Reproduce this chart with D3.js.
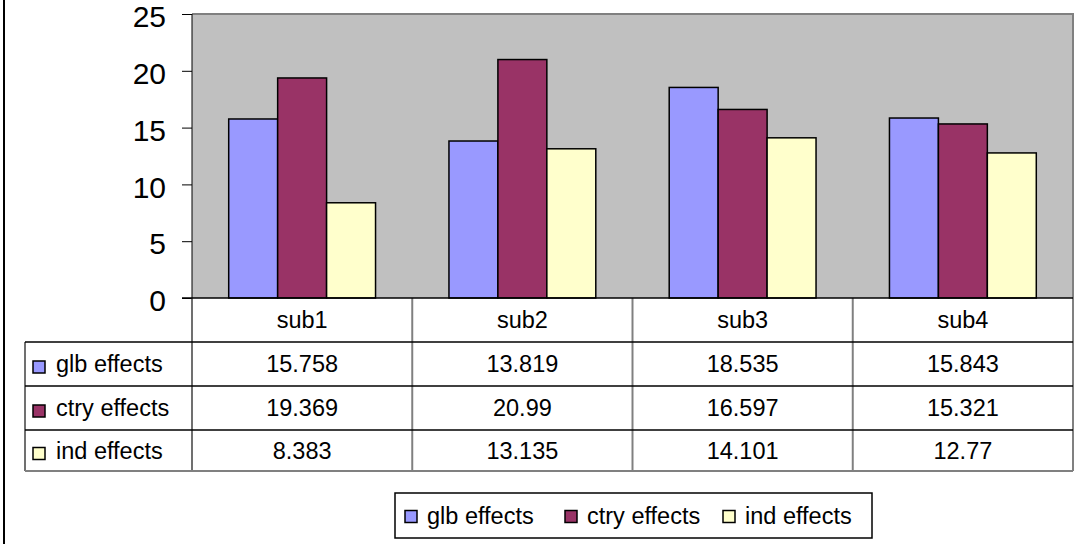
<!DOCTYPE html>
<html>
<head>
<meta charset="utf-8">
<script src="https://cdn.jsdelivr.net/npm/d3@7"></script>
<style>
  html, body { margin: 0; padding: 0; background: #fff; }
  svg { display: block; font-family: "Liberation Sans", Arial, sans-serif; }
</style>
</head>
<body>
<svg id="chart" width="1080" height="544"></svg>
<script>
// Categories, series and values
const categories = ["sub1", "sub2", "sub3", "sub4"];
const seriesNames = ["glb effects", "ctry effects", "ind effects"];
const glbValues = [15.758, 13.819, 18.535, 15.843];
const ctryValues = [19.369, 20.99, 16.597, 15.321];
const indValues = [8.383, 13.135, 14.101, 12.77];
const yTicks = [0, 5, 10, 15, 20, 25];

const seriesValues = [glbValues, ctryValues, indValues];
const seriesColors = ["#9999FF", "#993366", "#FFFFCC"];

const svg = d3.select("#chart");
const textSize = 23.5;

// Plot frame
const plot = { left: 192, right: 1073, top: 14, bottom: 298 };
const table = { left: 25, rowH: 44, lastRowH: 41 };

const x = d3.scaleBand().domain(categories).range([plot.left, plot.right]).padding(0);
const y = d3.scaleLinear().domain([0, 25]).range([plot.bottom, plot.top]);

// Bars: width = band / 4.5 (gap of 1.5 bar widths between groups)
const barW = x.bandwidth() / 4.5;
const inner = d3.scaleBand().domain(seriesNames)
  .range([barW * 0.75, barW * 0.75 + barW * 3]).padding(0);

const color = d3.scaleOrdinal().domain(seriesNames).range(seriesColors);

// Left frame line of the chart area
svg.append("line")
  .attr("x1", 4).attr("x2", 4).attr("y1", 0).attr("y2", 544)
  .attr("stroke", "#000").attr("stroke-width", 2);

// Plot background
svg.append("rect")
  .attr("x", plot.left).attr("y", plot.top)
  .attr("width", plot.right - plot.left).attr("height", plot.bottom - plot.top)
  .attr("fill", "#C0C0C0");
svg.append("path")
  .attr("d", `M${plot.left},${plot.top}H${plot.right}V${plot.bottom}`)
  .attr("fill", "none").attr("stroke", "#808080").attr("stroke-width", 2);

// Bars
const barData = [];
categories.forEach((c, ci) => {
  seriesNames.forEach((s, si) => {
    barData.push({ cat: c, series: s, value: seriesValues[si][ci] });
  });
});
svg.append("g").selectAll("rect").data(barData).join("rect")
  .attr("x", d => x(d.cat) + inner(d.series))
  .attr("y", d => y(d.value))
  .attr("width", inner.bandwidth())
  .attr("height", d => y(0) - y(d.value))
  .attr("fill", d => color(d.series))
  .attr("stroke", "#000").attr("stroke-width", 1.5);

// Y axis
const yAxis = d3.axisLeft(y).tickValues(yTicks).tickSize(10).tickPadding(16).tickFormat(d3.format("d"));
const gy = svg.append("g").attr("transform", `translate(${plot.left},0)`).call(yAxis);
gy.select(".domain").remove();
gy.selectAll(".tick line").attr("stroke", "#000");
gy.selectAll(".tick text")
  .attr("font-size", 30).attr("fill", "#000").attr("dy", "0.42em")
  .attr("font-family", "Liberation Sans, Arial, sans-serif");
svg.append("line")
  .attr("x1", plot.left).attr("x2", plot.left)
  .attr("y1", plot.top).attr("y2", plot.bottom)
  .attr("stroke", "#000").attr("stroke-width", 1);

// Data table below the plot
const rowTops = [plot.bottom, plot.bottom + table.rowH, plot.bottom + 2 * table.rowH, plot.bottom + 3 * table.rowH];
const tableBottom = rowTops[3] + table.lastRowH;
const rowCenter = i => i < 3 ? rowTops[i] + table.rowH / 2 : (rowTops[3] + tableBottom) / 2;

const tg = svg.append("g");

// vertical dividers
categories.forEach((c, i) => {
  if (i === 0) return;
  tg.append("line")
    .attr("x1", x(c)).attr("x2", x(c))
    .attr("y1", plot.bottom).attr("y2", tableBottom)
    .attr("stroke", "#808080").attr("stroke-width", 2);
});
tg.append("line")
  .attr("x1", plot.left).attr("x2", plot.left)
  .attr("y1", plot.bottom).attr("y2", tableBottom)
  .attr("stroke", "#404040").attr("stroke-width", 1.5);
tg.append("line")
  .attr("x1", table.left).attr("x2", table.left)
  .attr("y1", rowTops[1]).attr("y2", tableBottom)
  .attr("stroke", "#404040").attr("stroke-width", 1.5);
tg.append("line")
  .attr("x1", plot.right).attr("x2", plot.right)
  .attr("y1", plot.top).attr("y2", tableBottom)
  .attr("stroke", "#808080").attr("stroke-width", 2);

// horizontal lines
[1, 2, 3].forEach(i => {
  tg.append("line")
    .attr("x1", table.left).attr("x2", plot.right)
    .attr("y1", rowTops[i]).attr("y2", rowTops[i])
    .attr("stroke", "#000").attr("stroke-width", 1.5);
});
tg.append("line")
  .attr("x1", table.left).attr("x2", plot.right)
  .attr("y1", tableBottom).attr("y2", tableBottom)
  .attr("stroke", "#808080").attr("stroke-width", 2);

// baseline (value 0)
svg.append("line")
  .attr("x1", plot.left - 10).attr("x2", plot.right)
  .attr("y1", y(0)).attr("y2", y(0))
  .attr("stroke", "#000").attr("stroke-width", 1.5);

// category header
tg.selectAll("text.cat").data(categories).join("text")
  .attr("class", "cat")
  .attr("x", d => x(d) + x.bandwidth() / 2)
  .attr("y", rowCenter(0))
  .attr("dy", "0.35em")
  .attr("text-anchor", "middle")
  .attr("font-size", textSize)
  .text(d => d);

// series rows
seriesNames.forEach((s, si) => {
  const cy = rowCenter(si + 1);
  tg.append("rect")
    .attr("x", 33).attr("y", cy - 3)
    .attr("width", 12).attr("height", 12)
    .attr("fill", color(s)).attr("stroke", "#000").attr("stroke-width", 1.5);
  tg.append("text")
    .attr("x", 56).attr("y", cy).attr("dy", "0.35em")
    .attr("font-size", textSize).text(s);
  tg.selectAll(null).data(seriesValues[si]).join("text")
    .attr("x", (d, ci) => x(categories[ci]) + x.bandwidth() / 2)
    .attr("y", cy).attr("dy", "0.35em")
    .attr("text-anchor", "middle")
    .attr("font-size", textSize)
    .text(d => String(d));
});

// Legend
const legend = { x: 395, y: 493, w: 477, h: 45 };
const lg = svg.append("g");
lg.append("rect")
  .attr("x", legend.x).attr("y", legend.y)
  .attr("width", legend.w).attr("height", legend.h)
  .attr("fill", "#fff").attr("stroke", "#000").attr("stroke-width", 1.5);
const legendX = [405, 565, 723];
seriesNames.forEach((s, i) => {
  const cy = legend.y + legend.h / 2;
  lg.append("rect")
    .attr("x", legendX[i]).attr("y", cy - 5)
    .attr("width", 12).attr("height", 12)
    .attr("fill", color(s)).attr("stroke", "#000").attr("stroke-width", 1.5);
  lg.append("text")
    .attr("x", legendX[i] + 22).attr("y", cy).attr("dy", "0.35em")
    .attr("font-size", textSize).text(s);
});
</script>
</body>
</html>
